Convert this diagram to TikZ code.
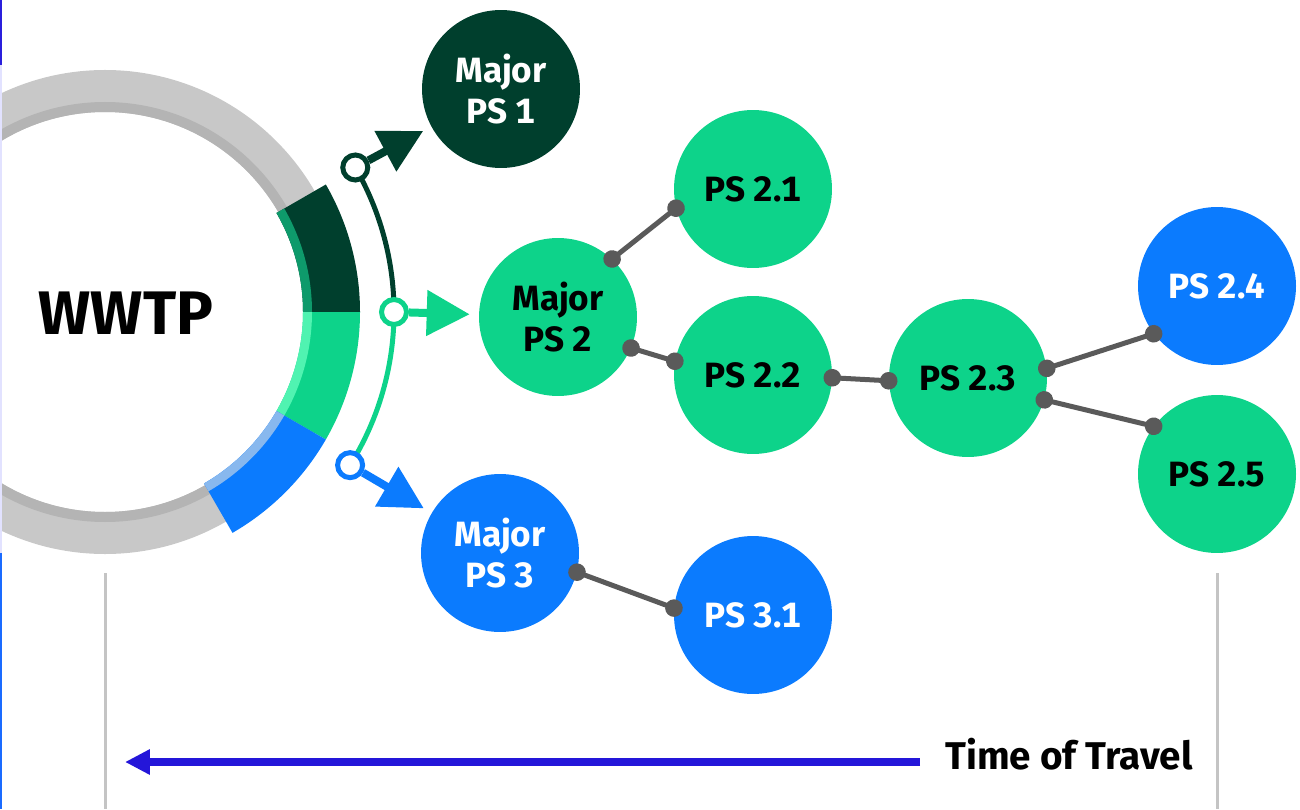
\documentclass[tikz,border=0pt]{standalone}
\usepackage{fontspec}
\setmainfont{Fira Sans}[Numbers={Monospaced,Lining}]
\usetikzlibrary{arrows.meta}

\definecolor{wwdark}{HTML}{003F2D}
\definecolor{wwgreen}{HTML}{0DD38A}
\definecolor{wwblue}{HTML}{0B7BFE}
\definecolor{wwdarkin}{HTML}{0E9A6B}
\definecolor{wwgreenin}{HTML}{50F3B1}
\definecolor{wwbluein}{HTML}{88B8EE}
\definecolor{ringgray}{HTML}{C8C8C8}
\definecolor{ringgrayin}{HTML}{B4B4B4}
\definecolor{linkgray}{HTML}{5A5A5A}
\definecolor{travelblue}{HTML}{2416D9}
\definecolor{guidegray}{HTML}{C4C4C4}
\definecolor{edgedark}{HTML}{2A1FDC}
\definecolor{edgepale}{HTML}{E2E2FF}
\definecolor{edgeblue}{HTML}{1A6BFF}

\tikzset{
  station/.style={circle, minimum size=3.16cm, inner sep=0pt, align=center,
    font=\fontsize{20}{23.5}\selectfont\bfseries},
  tap/.style={circle, draw=#1, fill=white, line width=0.1cm,
    minimum size=0.5cm, inner sep=0pt},
  feed/.style={#1, line width=0.16cm, shorten >=0.18cm,
    -{Triangle[length=0.86cm,width=0.88cm]}},
  link/.style={linkgray, line width=0.1cm,
    {Circle[length=0.35cm]}-{Circle[length=0.35cm]},
    shorten <=-0.175cm, shorten >=-0.175cm},
  guide/.style={guidegray, line width=0.06cm}
}

\begin{document}
\begin{tikzpicture}[x=0.02cm, y=0.02cm]
  \useasboundingbox (0,0) rectangle (1300,809);
  \coordinate (hub) at (105,497);

  % plant ring
  \fill[ringgray, even odd rule] (hub) circle (242) (hub) circle (200);
  \fill[ringgrayin, even odd rule] (hub) circle (210) (hub) circle (200);
  \foreach \a/\b/\c/\d in {0/30/wwdark/wwdarkin,
                           -30/0/wwgreen/wwgreenin,
                           -60/-30/wwblue/wwbluein} {
    \fill[\c] (hub) ++(\a:198) arc[start angle=\a, end angle=\b, radius=198]
      -- ++(\b:57) arc[start angle=\b, end angle=\a, radius=255] -- cycle;
    \fill[\d] (hub) ++(\a:198) arc[start angle=\a, end angle=\b, radius=198]
      -- ++(\b:9) arc[start angle=\b, end angle=\a, radius=207] -- cycle;
  }
  \node[font=\fontsize{35}{40}\selectfont\bfseries] (wwtp) at (126,496) {WWTP};

  % stations
  \node[station, fill=wwdark, text=white] (mps1) at (501,720) {Major\\PS 1};
  \node[station, fill=wwgreen] (mps2) at (558,492) {Major\\PS 2};
  \node[station, fill=wwblue, text=white] (mps3) at (500,256) {Major\\PS 3};
  \node[station, fill=wwgreen] (ps21) at (753,620) {PS 2.1};
  \node[station, fill=wwgreen] (ps22) at (753,434) {PS 2.2};
  \node[station, fill=wwgreen] (ps23) at (968,431) {PS 2.3};
  \node[station, fill=wwblue, text=white] (ps24) at (1217,523) {PS 2.4};
  \node[station, fill=wwgreen] (ps25) at (1217,335) {PS 2.5};
  \node[station, fill=wwblue, text=white] (ps31) at (753,194) {PS 3.1};

  % taps on the outfall arc
  \coordinate (t1c) at ([shift={(30:289)}]hub);
  \coordinate (t2c) at ([shift={(0:289)}]hub);
  \coordinate (t3c) at ([shift={(-32:289)}]hub);
  \draw[wwdark, line width=0.1cm] (t1c) arc[start angle=30, end angle=0, radius=289];
  \draw[wwgreen, line width=0.1cm] (t2c) arc[start angle=0, end angle=-32, radius=289];
  \node[tap=wwdark] (t1) at (t1c) {};
  \node[tap=wwgreen] (t2) at (t2c) {};
  \node[tap=wwblue] (t3) at (t3c) {};
  \draw[feed=wwdark] (t1) -- (mps1);
  \draw[feed=wwgreen] (t2) -- (mps2);
  \draw[feed=wwblue] (t3) -- (mps3);

  % links between stations
  \draw[link] (mps2.47) -- (ps21.194);
  \draw[link] (mps2.337) -- (ps22.170);
  \draw[link] (ps22.358) -- (ps23.182);
  \draw[link] (ps23.7) -- (ps24.217);
  \draw[link] (ps23.344) -- (ps25.143);
  \draw[link] (mps3.346) -- (ps31.175);

  % time scale
  \draw[guide] (105,236) -- (105,0);
  \draw[guide] (1217,236) -- (1217,0);
  \node[anchor=west, inner sep=0pt, font=\fontsize{22}{26}\selectfont\bfseries]
    (tot) at (945,55) {Time of Travel};
  \coordinate (totfoot) at (920,47);
  \coordinate (tothead) at (125,47);
  \draw[travelblue, line width=0.16cm, -{Triangle[length=0.5cm,width=0.48cm]}]
    (totfoot) -- (tothead);

  % left edge strip
  \draw[edgedark, line width=0.04cm] (1,809) -- (1,744);
  \draw[edgepale, line width=0.04cm] (1,744) -- (1,256);
  \draw[edgeblue, line width=0.04cm] (1,256) -- (1,0);
\end{tikzpicture}
\end{document}
